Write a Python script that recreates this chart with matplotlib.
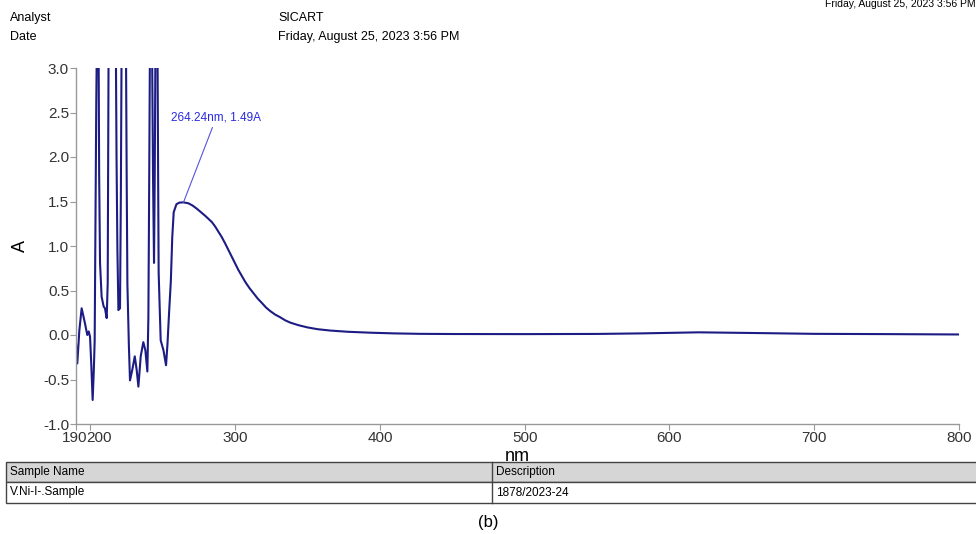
import matplotlib
matplotlib.use("Agg")
import matplotlib.pyplot as plt
from matplotlib.patches import Rectangle
from matplotlib.transforms import ScaledTranslation

plt.rcParams['font.family'] = ['Liberation Sans', 'DejaVu Sans']

# spectrum (values above 3.0 run off the top of the axes)
wavelength = [190.0, 190.9, 192.3, 193.9, 195.0, 196.2, 197.8, 198.8, 199.7, 200.6,
              201.5, 202.3, 202.9, 203.4, 204.0, 204.6, 205.5, 206.0, 206.6, 207.7,
              209.1, 210.0, 211.2, 211.9, 212.6, 217.4, 218.0, 218.6, 219.3, 220.4,
              221.0, 221.6, 224.4, 225.0, 225.5, 226.5, 227.3, 228.9, 230.6, 231.9,
              233.1, 234.7, 236.5, 237.9, 239.3, 240.0, 240.6, 241.2, 242.4, 243.2,
              243.9, 244.4, 245.0, 246.2, 246.7, 247.1, 248.5, 250.4, 252.2, 253.2,
              254.3, 255.5, 256.5, 257.5, 259.4, 261.5, 264.24, 267.6, 270.5, 273.4,
              276.3, 279.2, 281.5, 283.8, 286.1, 288.4, 290.7, 293.0, 295.3, 297.6,
              299.9, 302.2, 304.5, 306.8, 309.7, 312.6, 315.5, 318.4, 321.2, 324.1,
              327.5, 331.0, 334.5, 337.9, 343.7, 350.0, 357.0, 365.6, 378.0, 393.2,
              410.0, 427.8, 450.0, 500.0, 550.0, 580.0, 620.0, 660.0, 700.0, 750.0,
              800.0]
absorbance = [-0.09, -0.32, 0.05, 0.30, 0.22, 0.13, 0.00, 0.04, -0.02, -0.35,
              -0.73, -0.40, -0.06, 1.15, 2.60, 3.60, 3.60, 1.80, 0.81, 0.43,
              0.32, 0.30, 0.19, 0.58, 3.60, 3.60, 2.00, 0.96, 0.28, 0.30,
              1.60, 3.60, 3.60, 1.80, 0.58, -0.10, -0.51, -0.39, -0.24, -0.39,
              -0.58, -0.24, -0.08, -0.17, -0.41, 0.20, 1.80, 3.60, 3.60, 1.80,
              0.81, 1.80, 3.60, 3.60, 1.90, 0.70, -0.06, -0.17, -0.34, -0.10,
              0.25, 0.60, 1.10, 1.38, 1.47, 1.488, 1.49, 1.48, 1.455, 1.42,
              1.38, 1.34, 1.305, 1.27, 1.22, 1.16, 1.10, 1.03, 0.955, 0.88,
              0.805, 0.73, 0.665, 0.60, 0.53, 0.47, 0.41, 0.36, 0.31, 0.27,
              0.23, 0.20, 0.165, 0.14, 0.11, 0.085, 0.065, 0.05, 0.036, 0.026,
              0.018, 0.013, 0.011, 0.010, 0.012, 0.018, 0.030, 0.022, 0.013, 0.010,
              0.006]

peak_wl = 264.24
peak_a = 1.49

x_ticks = [190, 200, 300, 400, 500, 600, 700, 800]
y_ticks = [-1.0, -0.5, 0.0, 0.5, 1.0, 1.5, 2.0, 2.5, 3.0]

report_date = "Friday, August 25, 2023 3:56 PM"
analyst = "SICART"
sample_name = "V.Ni-I-.Sample"
description = "1878/2023-24"

W, H = 976, 534
fig = plt.figure(figsize=(W / 100, H / 100), dpi=100)

def fx(px):
    return px / W

def fy(py):
    return 1 - py / H

narrow = ['Liberation Sans Narrow', 'Liberation Sans', 'DejaVu Sans']

# header
fig.text(fx(825), fy(4), report_date, fontsize=7.5, family=narrow, va='center', ha='left')
fig.text(fx(10), fy(18), "Analyst", fontsize=9, family=narrow, va='center')
fig.text(fx(10), fy(37), "Date", fontsize=9, family=narrow, va='center')
fig.text(fx(278), fy(18), analyst, fontsize=9, family=narrow, va='center')
fig.text(fx(278), fy(37), report_date, fontsize=9, family=narrow, va='center')

# plot
ax = fig.add_axes([fx(76), fy(424), fx(959) - fx(76), fy(68) - fy(424)])
ax.plot(wavelength, absorbance, color='#1c1c84', lw=1.5)
ax.set_xlim(190, 800)
ax.set_ylim(-1.0, 3.0)
ax.set_xticks(x_ticks)
ax.set_yticks(y_ticks)
ax.set_yticklabels([f"{v:.1f}" for v in y_ticks])
ax.tick_params(labelsize=11, colors='#333333', length=4, width=0.8, pad=1)
for s in ['top', 'right']:
    ax.spines[s].set_visible(False)
for s in ['left', 'bottom']:
    ax.spines[s].set_color('#999999')
    ax.spines[s].set_linewidth(1.0)
ax.tick_params(color='#999999')
ax.set_xlabel("nm", fontsize=13, labelpad=2)
ax.set_ylabel("A", fontsize=13, labelpad=10)

# 190 and 200 sit close together: nudge their labels apart
xl = ax.get_xticklabels()
xl[0].set_transform(xl[0].get_transform() + ScaledTranslation(-1 / 100, 0, fig.dpi_scale_trans))
xl[1].set_transform(xl[1].get_transform() + ScaledTranslation(9 / 100, 0, fig.dpi_scale_trans))

ax.annotate(f"{peak_wl:.2f}nm, {peak_a:.2f}A", xy=(peak_wl, peak_a),
            xytext=(255.5, 2.445), fontsize=8.5, color='#2a2ae0', va='center', ha='left',
            arrowprops=dict(arrowstyle='-', color='#5555dd', lw=0.8,
                            relpos=(0.48, 0.0), shrinkA=1, shrinkB=0))

# sample table
border = '#444444'
fig.add_artist(Rectangle((fx(6), fy(482)), fx(980) - fx(6), fy(462) - fy(482),
                         transform=fig.transFigure, facecolor='#d6d6d6',
                         edgecolor=border, lw=1.0, clip_on=False))
fig.add_artist(Rectangle((fx(6), fy(503)), fx(980) - fx(6), fy(482) - fy(503),
                         transform=fig.transFigure, facecolor='white',
                         edgecolor=border, lw=1.0, clip_on=False))
fig.add_artist(plt.Line2D([fx(492), fx(492)], [fy(462), fy(503)],
                          transform=fig.transFigure, color=border, lw=1.0))
fig.text(fx(10), fy(472.5), "Sample Name", fontsize=8.5, family=narrow, va='center')
fig.text(fx(496), fy(472.5), "Description", fontsize=8.5, family=narrow, va='center')
fig.text(fx(10), fy(492.5), sample_name, fontsize=8.5, family=narrow, va='center')
fig.text(fx(496), fy(492.5), description, fontsize=8.5, family=narrow, va='center')

fig.text(fx(488), fy(523), "(b)", fontsize=12, ha='center', va='center')

fig.savefig("out.png", dpi=100)
